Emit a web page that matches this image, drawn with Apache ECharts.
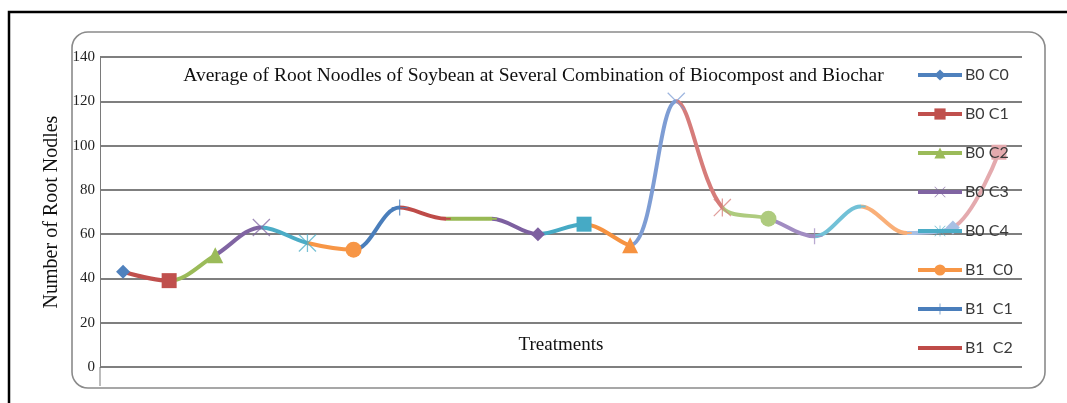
<!DOCTYPE html>
<html>
<head>
<meta charset="utf-8">
<script src="https://cdn.jsdelivr.net/npm/echarts@6/dist/echarts.min.js"></script>
<style>
  html, body { margin: 0; padding: 0; background: #ffffff; }
  #chart { width: 1067px; height: 403px; }
</style>
</head>
<body>
<div id="chart"></div>
<script>
// Treatment combinations: biochar level (B0..B3) x biocompost level (C0..C4)
const treatments = [
  'B0 C0', 'B0 C1', 'B0 C2', 'B0 C3', 'B0 C4',
  'B1  C0', 'B1  C1', 'B1  C2', 'B1  C3', 'B1  C4',
  'B2  C0', 'B2  C1', 'B2  C2', 'B2  C3', 'B2  C4',
  'B3  C0', 'B3  C1', 'B3  C2', 'B3  C3', 'B3  C4'
];

// Average number of root nodules per treatment
const rootNodules = [43, 39, 50.5, 63, 56, 53, 72, 67, 67, 60, 64.5, 55, 120, 72, 67, 59, 72.5, 60.5, 63, 97];

// Value axis range
const yMin = 0, yMax = 140, yStep = 20;

// Office-style series colours
const seriesColors = [
  '#4F81BD', '#C0504D', '#9BBB59', '#8064A2', '#4BACC6', '#F79646',
  '#4A7EBB', '#BE4B48', '#98B954', '#7D60A0', '#46AAC5', '#F69240',
  '#7E9DD4', '#D67C7A', '#AECB7E', '#A18CC2', '#72C1D7', '#F9AF78',
  '#A8C0E4', '#E4AAAE'
];

// Marker cycle
const markerKinds = [
  'diamond', 'square', 'triangle', 'cross', 'asterisk', 'circle', 'plus', 'dash', 'dash',
  'diamond', 'square', 'triangle', 'cross', 'asterisk', 'circle', 'plus', 'dash', 'dash',
  'diamond', 'square'
];

const SYMBOL_PATHS = {
  diamond: 'diamond',
  square: 'rect',
  triangle: 'triangle',
  circle: 'circle',
  plus: 'path://M9.2,0h1.6v20h-1.6zM0,9.2h20v1.6h-20z',
  cross: 'path://M0,1L1,0L20,19L19,20ZM19,0L20,1L1,20L0,19Z',
  asterisk: 'path://M9.3,0h1.4v20h-1.4zM0,1L1,0L20,19L19,20ZM19,0L20,1L1,20L0,19Z',
  // a short bar centred in a square box (tiny corner specks fix the box size)
  dash: 'path://M0,0h0.01v0.01h-0.01zM19.99,19.99h0.01v0.01h-0.01zM0,8h20v4h-20z'
};
const SYMBOL_SIZES = {
  diamond: 14, square: 15, triangle: 16, circle: 16,
  plus: 16, cross: 18, asterisk: 18, dash: 10
};

const serif = 'Liberation Serif, Times New Roman, serif';
const sans = 'Lato, Carlito, Open Sans, sans-serif';

// Colour each stretch of the smoothed curve by the treatment it runs into
const curvePieces = [{ lte: 0, color: seriesColors[0] }];
for (let i = 1; i < treatments.length; i++) {
  curvePieces.push({ gt: i - 1, lte: i, color: seriesColors[i] });
}

const series = [{
  type: 'line',
  name: 'trend',
  data: rootNodules,
  smooth: 0.35,
  showSymbol: false,
  silent: true,
  z: 2,
  lineStyle: { width: 4 }
}];

treatments.forEach((name, i) => {
  const kind = markerKinds[i];
  series.push({
    type: 'line',
    name: name,
    data: rootNodules.map((v, j) => (j === i ? v : null)),
    symbol: SYMBOL_PATHS[kind],
    symbolSize: SYMBOL_SIZES[kind],
    showSymbol: true,
    z: 3,
    itemStyle: { color: seriesColors[i], opacity: (kind === 'cross' || kind === 'asterisk' || kind === 'plus') ? 0.75 : 1 },
    lineStyle: { color: seriesColors[i], width: 4 }
  });
});

const chart = echarts.init(document.getElementById('chart'), null, { renderer: 'canvas' });
chart.setOption({
  animation: false,
  backgroundColor: '#ffffff',
  title: {
    text: 'Average of Root Noodles of Soybean at Several Combination of Biocompost and Biochar',
    left: 'center',
    top: 61,
    textStyle: { fontFamily: serif, fontSize: 19.5, fontWeight: 'normal', color: '#111' }
  },
  legend: {
    data: treatments.slice(0, 8),
    orient: 'vertical',
    left: 916,
    top: 67,
    padding: 0,
    itemWidth: 44,
    itemHeight: 14,
    itemGap: 23,
    lineStyle: { width: 4 },
    textStyle: { fontFamily: sans, fontSize: 16, color: '#3a3a3a', padding: [0, 0, 0, -2] }
  },
  visualMap: {
    type: 'piecewise',
    show: false,
    dimension: 0,
    seriesIndex: 0,
    pieces: curvePieces
  },
  grid: { left: 100, right: 45, top: 57, bottom: 36 },
  xAxis: {
    type: 'category',
    data: treatments,
    boundaryGap: true,
    axisLine: { show: false },
    axisTick: { show: false },
    axisLabel: { show: false },
    splitLine: { show: false },
    name: 'Treatments',
    nameLocation: 'middle',
    nameGap: -31,
    nameTextStyle: { fontFamily: serif, fontSize: 19, color: '#111' }
  },
  yAxis: {
    type: 'value',
    min: yMin,
    max: yMax,
    interval: yStep,
    axisLine: { show: true, lineStyle: { color: '#7a7a7a', width: 1 } },
    axisTick: { show: false },
    axisLabel: { fontFamily: serif, fontSize: 15, color: '#222', margin: 5 },
    splitLine: { lineStyle: { color: '#555555', width: 1.6 } },
    name: 'Number of Root Nodles',
    nameLocation: 'middle',
    nameGap: 33,
    nameTextStyle: { fontFamily: serif, fontSize: 20, color: '#111' }
  },
  graphic: [
    {
      type: 'rect', z: -1, silent: true,
      shape: { x: 9, y: 12, width: 1120, height: 500 },
      style: { fill: 'none', stroke: '#000', lineWidth: 2.5 }
    },
    {
      type: 'rect', z: -1, silent: true,
      shape: { x: 72, y: 32, width: 973, height: 356, r: 16 },
      style: { fill: 'none', stroke: '#8a8a8a', lineWidth: 1.6 }
    },
    {
      type: 'line', z: -1, silent: true,
      shape: { x1: 100, y1: 367, x2: 100, y2: 386 },
      style: { stroke: '#7a7a7a', lineWidth: 1 }
    }
  ],
  series: series
});
</script>
</body>
</html>
